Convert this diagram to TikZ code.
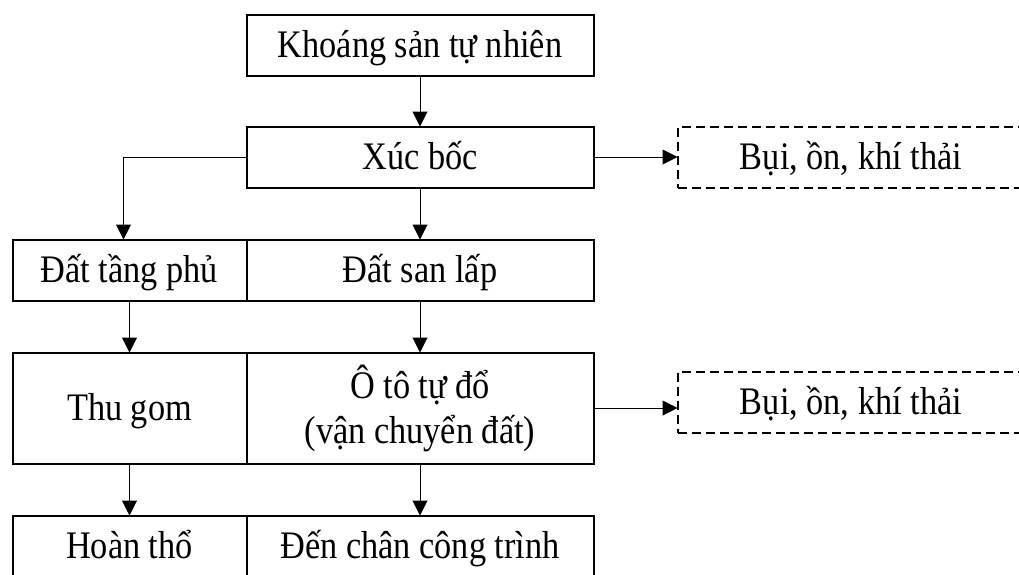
\documentclass[tikz,border=0pt]{standalone}
\usepackage{fontspec}
\setmainfont{Liberation Serif}[FakeStretch=0.88]
\usetikzlibrary{positioning,arrows.meta}

\begin{document}
\begin{tikzpicture}[x=1pt,y=-1pt,>={Triangle[length=15pt,width=15pt]},line width=1pt,
    box/.style={draw,line width=2pt,outer sep=0pt,inner sep=0pt,minimum width=347pt,minimum height=61pt,align=center,
        text height=30.5pt,text depth=5.5pt,font=\fontsize{39}{45}\selectfont},
    side box/.style={box,minimum width=234pt},
    out box/.style={box,dashed,dash pattern=on 9pt off 5pt}]

            \path[use as bounding box,clip] (0,0) rectangle (1019,574);

            \node[box] (1) at (420,45) {Khoáng sản tự nhiên};
            \node[box] (2) [below=51pt of 1] {Xúc bốc};
            \node[box] (4) [below=52pt of 2] {Đất san lấp};
            \node[side box] (3) [left=0pt of 4] {Đất tầng phủ};
            \node[box, minimum height=111pt, text height=, text depth=] (6) [below=52pt of 4] {Ô tô tự đổ\\(vận chuyển đất)};
            \node[side box, minimum height=111pt] (5) [left=0pt of 6] {Thu gom};
            \node[box] (8) [below=52pt of 6] {Đến chân công trình};
            \node[side box] (7) [left=0pt of 8] {Hoàn thổ};
            \node[out box] (9) [right=84pt of 2] {Bụi, ồn, khí thải};
            \node[out box] (10) [right=84pt of 6, yshift=6pt] {Bụi, ồn, khí thải};

            \draw[->] (1) to (2);
            \draw[->] (2) to (4);
            \draw[->] (2.west) -| ([xshift=-6pt]3.north);
            \draw[->] (2) to (9);
            \draw[->] (3) to (5);
            \draw[->] (4) to (6);
            \draw[->] (6.east) to (10.west |- 6.east);
            \draw[->] (5) to (7);
            \draw[->] (6) to (8);

            ;
        \end{tikzpicture}
\end{document}
